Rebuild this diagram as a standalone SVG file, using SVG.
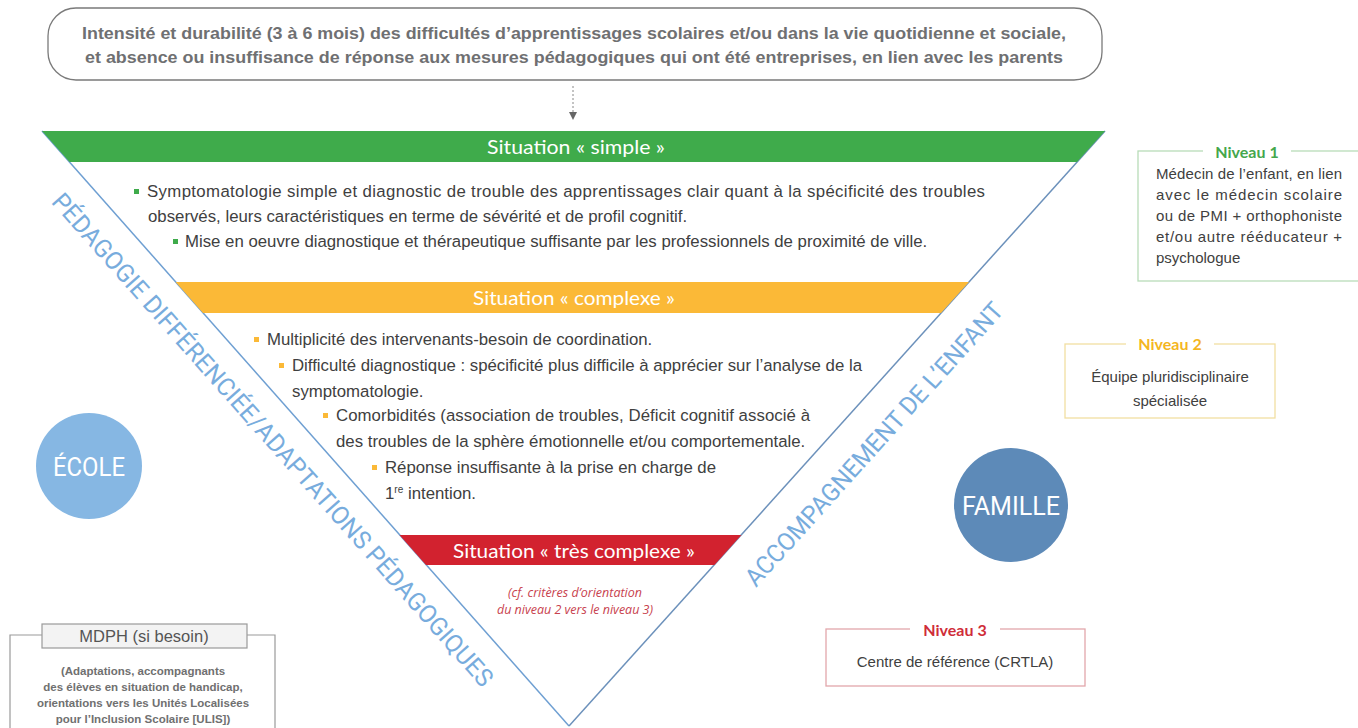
<svg xmlns="http://www.w3.org/2000/svg" width="1358" height="728" viewBox="0 0 1358 728">
<defs>
<style>
.body{font-family:"Liberation Sans",Arial,sans-serif;font-size:16.8px;fill:#404040}
.top{font-family:"Liberation Sans",Arial,sans-serif;font-size:17px;font-weight:bold;fill:#6f7072}
.band{font-family:Lato,"Open Sans",sans-serif;font-size:20px;fill:#ffffff;text-anchor:middle}
.diag{font-family:Roboto,"Liberation Sans",sans-serif;font-size:25px;fill:#78acdd}
.circ{font-family:Roboto,"Liberation Sans",sans-serif;font-size:26px;fill:#ffffff;text-anchor:middle}
.niv{font-family:Lato,"Open Sans",sans-serif;font-size:16px;font-weight:bold;text-anchor:middle}
.nb{font-family:"Liberation Sans",Arial,sans-serif;font-size:15px;fill:#404040}
.mdph{font-family:"Liberation Sans",Arial,sans-serif;font-size:11.5px;font-weight:bold;fill:#707070;text-anchor:middle}
.note{font-family:"Open Sans",Lato,sans-serif;font-size:12.5px;font-style:italic;fill:#c8424e;text-anchor:middle}
.gb{fill:#3fab4b}
.yb{fill:#fbb937}
</style>
<marker id="arr" markerWidth="8" markerHeight="8" refX="4" refY="4" orient="auto" markerUnits="userSpaceOnUse">
<path d="M0,0 L8,4 L0,8 z" fill="#666"/>
</marker>
</defs>
<rect width="1358" height="728" fill="#ffffff"/>

<g id="top-box">
<rect x="48" y="8" width="1054" height="72" rx="28" ry="28" fill="#fff" stroke="#7a7a7a" stroke-width="1.3"/>
<text class="top" x="82" y="39" textLength="984" lengthAdjust="spacingAndGlyphs">Intensité et durabilité (3 à 6 mois) des difficultés d’apprentissages scolaires et/ou dans la vie quotidienne et sociale,</text>
<text class="top" x="85" y="63" textLength="978" lengthAdjust="spacingAndGlyphs">et absence ou insuffisance de réponse aux mesures pédagogiques qui ont été entreprises, en lien avec les parents</text>
</g>

<g id="connectors">
<line x1="573" y1="86" x2="573" y2="116" stroke="#888" stroke-width="1" stroke-dasharray="2 2" marker-end="url(#arr)"/>
</g>

<g id="triangle">
<line x1="42" y1="131" x2="569" y2="726" stroke="#6e9fd2" stroke-width="1.5"/>
<line x1="1105" y1="131" x2="569" y2="726" stroke="#6c91bb" stroke-width="1.5"/>
</g>

<g id="situation-simple">
<polygon points="42,131 1105,131 1077,162 69.5,162" fill="#3fab4b"/>
<text class="band" x="576" y="154" textLength="178" lengthAdjust="spacingAndGlyphs">Situation « simple »</text>
<rect class="gb" x="134" y="189" width="5" height="5"/>
<text class="body" x="147" y="197" textLength="838" lengthAdjust="spacing">Symptomatologie simple et diagnostic de trouble des apprentissages clair quant à la spécificité des troubles</text>
<text class="body" x="148" y="222">observés, leurs caractéristiques en terme de sévérité et de profil cognitif.</text>
<rect class="gb" x="173" y="239" width="5" height="5"/>
<text class="body" x="185" y="247">Mise en oeuvre diagnostique et thérapeutique suffisante par les professionnels de proximité de ville.</text>
</g>

<g id="situation-complexe">
<polygon points="175.6,282 969,282 941,313 203,313" fill="#fbb937"/>
<text class="band" x="574" y="305" textLength="202" lengthAdjust="spacingAndGlyphs">Situation « complexe »</text>
<rect class="yb" x="254" y="337" width="5" height="5"/>
<text class="body" x="267" y="345">Multiplicité des intervenants-besoin de coordination.</text>
<rect class="yb" x="279" y="363" width="5" height="5"/>
<text class="body" x="292" y="371" textLength="570" lengthAdjust="spacing">Difficulté diagnostique : spécificité plus difficile à apprécier sur l’analyse de la</text>
<text class="body" x="292" y="397">symptomatologie.</text>
<rect class="yb" x="323" y="413" width="5" height="5"/>
<text class="body" x="336" y="421" textLength="474" lengthAdjust="spacing">Comorbidités (association de troubles, Déficit cognitif associé à</text>
<text class="body" x="336" y="447">des troubles de la sphère émotionnelle et/ou comportementale.</text>
<rect class="yb" x="372" y="465" width="5" height="5"/>
<text class="body" x="385" y="473" textLength="331" lengthAdjust="spacing">Réponse insuffisante à la prise en charge de</text>
<text class="body" x="385" y="499">1<tspan font-size="10" dy="-6">re</tspan><tspan dy="6"> intention.</tspan></text>
</g>

<g id="situation-tres-complexe">
<polygon points="399.5,535 741.4,535 714.4,565 426,565" fill="#d2222f"/>
<text class="band" x="574" y="558" textLength="242" lengthAdjust="spacingAndGlyphs">Situation « très complexe »</text>
<text class="note" x="575" y="597">(cf. critères d’orientation</text>
<text class="note" x="575" y="614">du niveau 2 vers le niveau 3)</text>
</g>

<g id="pedagogie">
<text class="diag" transform="translate(50.6,202.4) rotate(48.4)" textLength="650" lengthAdjust="spacingAndGlyphs">PÉDAGOGIE DIFFÉRENCIÉE/ADAPTATIONS PÉDAGOGIQUES</text>
</g>

<g id="accompagnement">
<text class="diag" transform="translate(756,588) rotate(-48)" textLength="372" lengthAdjust="spacingAndGlyphs">ACCOMPAGNEMENT DE L’ENFANT</text>
</g>

<g id="ecole">
<circle cx="89" cy="466" r="53" fill="#86b7e3"/>
<text class="circ" x="89" y="476" textLength="72" lengthAdjust="spacingAndGlyphs">ÉCOLE</text>
</g>

<g id="famille">
<circle cx="1011" cy="505" r="57" fill="#5d8ab8"/>
<text class="circ" x="1011" y="515" textLength="98" lengthAdjust="spacingAndGlyphs">FAMILLE</text>
</g>

<g id="niveau1">
<rect x="1138" y="151" width="230" height="130" fill="none" stroke="#b8dcb8" stroke-width="1.3"/>
<rect x="1203" y="143" width="88" height="16" fill="#fff"/>
<text class="niv" x="1247" y="158" fill="#45a74c">Niveau 1</text>
<text class="nb" x="1156" y="179" textLength="186" lengthAdjust="spacing">Médecin de l’enfant, en lien</text>
<text class="nb" x="1156" y="200" textLength="186" lengthAdjust="spacing">avec le médecin scolaire</text>
<text class="nb" x="1156" y="221" textLength="186" lengthAdjust="spacing">ou de PMI + orthophoniste</text>
<text class="nb" x="1156" y="242" textLength="186" lengthAdjust="spacing">et/ou autre rééducateur +</text>
<text class="nb" x="1156" y="263">psychologue</text>
</g>

<g id="niveau2">
<rect x="1065" y="344" width="210" height="74" fill="none" stroke="#f2dfa2" stroke-width="1.3"/>
<rect x="1126" y="336" width="88" height="16" fill="#fff"/>
<text class="niv" x="1170" y="350" fill="#f4b61f">Niveau 2</text>
<text class="nb" x="1170" y="382" text-anchor="middle" font-size="16.8">Équipe pluridisciplinaire</text>
<text class="nb" x="1170" y="406" text-anchor="middle" font-size="16.8">spécialisée</text>
</g>

<g id="niveau3">
<rect x="826" y="629" width="259" height="57" fill="none" stroke="#e2a7ab" stroke-width="1.3"/>
<rect x="910" y="621" width="90" height="16" fill="#fff"/>
<text class="niv" x="955" y="636" fill="#cf2d39">Niveau 3</text>
<text class="nb" x="955" y="667" text-anchor="middle" font-size="16.5">Centre de référence (CRTLA)</text>
</g>

<g id="mdph">
<path d="M42,635 H10 V730 M247,635 H275 V730" fill="none" stroke="#9a9a9a" stroke-width="1.2"/>
<rect x="42" y="624" width="205" height="24" fill="#f3f3f3" stroke="#9a9a9a" stroke-width="1.2"/>
<text x="144" y="642" text-anchor="middle" font-family="Liberation Sans, Arial, sans-serif" font-size="16.5" fill="#555">MDPH (si besoin)</text>
<text class="mdph" x="143" y="675">(Adaptations, accompagnants</text>
<text class="mdph" x="143" y="691">des élèves en situation de handicap,</text>
<text class="mdph" x="143" y="707">orientations vers les Unités Localisées</text>
<text class="mdph" x="143" y="723">pour l’Inclusion Scolaire [ULIS])</text>
</g>
</svg>
